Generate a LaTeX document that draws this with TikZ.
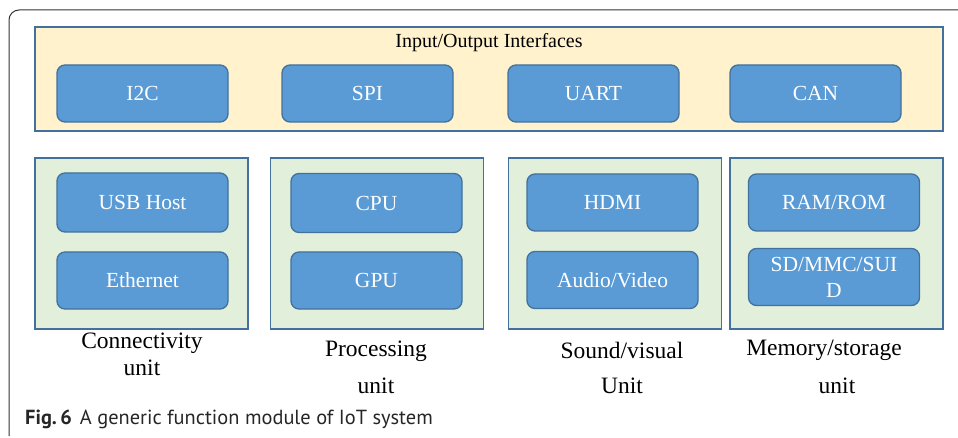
\documentclass[tikz,border=0pt]{standalone}
\usepackage{fontspec}
\setmainfont{Liberation Serif}
\newfontfamily\capfont{PT Sans}
\definecolor{bluefill}{HTML}{5B9BD5}
\definecolor{blueline}{HTML}{41719C}
\definecolor{yel}{HTML}{FFF2CC}
\definecolor{grn}{HTML}{E2EFDA}
\definecolor{frame}{HTML}{333333}
\tikzset{
  blk/.style={draw=blueline, fill=bluefill, line width=1.3pt, rounded corners=8pt,
    minimum width=171pt, minimum height=57pt, inner sep=0pt, text=white,
    font=\fontsize{21.5}{24}\selectfont, align=center},
  unitbox/.style={draw=blueline, fill=grn, line width=1.5pt, inner sep=0pt,
    minimum width=213pt, minimum height=171pt},
  iobox/.style={draw=blueline, fill=yel, line width=1.5pt, inner sep=0pt,
    minimum width=908pt, minimum height=104pt},
  lbl/.style={font=\fontsize{23.5}{26}\selectfont, inner sep=0pt, align=center},
}
\begin{document}
\begin{tikzpicture}[x=1pt,y=-1pt]
\useasboundingbox (0,0) rectangle (958,438);
% outer frame
\draw[frame, line width=1pt] (9,436) -- (9,20) arc[start angle=180,end angle=270,radius=10] -- (958,10);
% IO
\node[iobox] (io) at (489,79) {};
\node[font=\fontsize{20}{22}\selectfont, inner sep=0pt] (iot) at (489,43) {Input/Output Interfaces};
\node[blk] (i2c) at (142.5,93.5) {I2C};
\node[blk] (spi) at (367.5,93.5) {SPI};
\node[blk] (uart) at (593.5,93.5) {UART};
\node[blk] (can) at (815.5,93.5) {CAN};
% units
\node[unitbox] (u1) at (141.5,243.5) {};
\node[unitbox] (u2) at (377,243.5) {};
\node[unitbox] (u3) at (615,243.5) {};
\node[unitbox] (u4) at (836.5,243.5) {};
\node[blk, minimum height=59pt] (usb) at (142.5,202.5) {USB Host};
\node[blk] (eth) at (142.5,280.5) {Ethernet};
\node[blk, minimum height=59pt] (cpu) at (376.5,203) {CPU};
\node[blk] (gpu) at (376.5,280.5) {GPU};
\node[blk] (hdmi) at (612.5,202.5) {HDMI};
\node[blk] (av) at (612.5,280) {Audio/Video};
\node[blk] (ram) at (834,202.5) {RAM/ROM};
\node[blk, font=\fontsize{21.5}{26}\selectfont] (sd) at (834,277) {SD/MMC/SUI\\D};
% labels
\node[lbl] (l1a) at (142,343) {Connectivity};
\node[lbl] (l1b) at (142,368) {unit};
\node[lbl] (l2a) at (376,351) {Processing};
\node[lbl] (l2b) at (376,386) {unit};
\node[lbl] (l3a) at (622,350) {Sound/visual};
\node[lbl] (l3b) at (622,386) {Unit};
\node[lbl] (l4a) at (824,350) {Memory/storage};
\node[lbl] (l4b) at (837,386) {unit};
% caption
\node[anchor=west, inner sep=0pt, font=\capfont\fontsize{20.4}{22}\selectfont, text=black!85] (cap) at (25,419) {\textbf{Fig.\,6}\hspace{8pt}A generic function module of IoT system};
\end{tikzpicture}
\end{document}
